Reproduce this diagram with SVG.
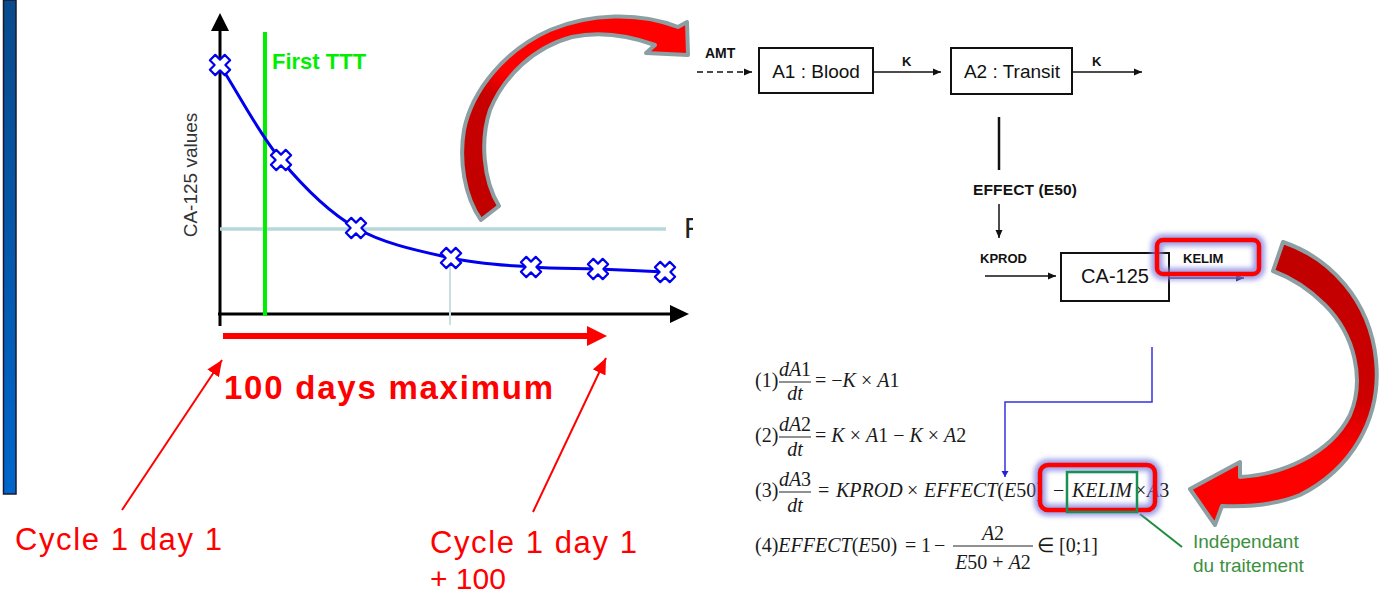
<svg xmlns="http://www.w3.org/2000/svg" width="1379" height="597" viewBox="0 0 1379 597">
<defs>
<style>
.sans{font-family:"Liberation Sans",Arial,sans-serif}
.b{font-weight:bold}
.m{font-family:"Liberation Serif","Times New Roman",serif;font-size:20px;fill:#1a1a1a}
.i{font-style:italic}
.box{fill:#fff;stroke:#111;stroke-width:2}
.flow{stroke:#111;stroke-width:1.5;fill:none}
.xm{fill:#fff;stroke:#0000ee;stroke-width:2.2;stroke-linejoin:round}
.big{stroke:#8c9fa2;stroke-width:4;stroke-linejoin:round}
.glow{fill:none;stroke:#7f7fe0;stroke-width:12;opacity:0.75}
.hl{fill:none;stroke:#ff0000;stroke-width:4.5}
.frac{stroke:#222;stroke-width:1}
.redtxt{fill:#ff0000;font-family:"Liberation Sans",Arial,sans-serif}
</style>
<linearGradient id="barGrad" x1="0" y1="0" x2="0" y2="1"><stop offset="0" stop-color="#0a4a8c"/><stop offset="1" stop-color="#0066cc"/></linearGradient>
<linearGradient id="gTop" x1="0" y1="1" x2="0.6" y2="0"><stop offset="0" stop-color="#c00000"/><stop offset="0.5" stop-color="#c80000"/><stop offset="0.62" stop-color="#ff0000"/><stop offset="1" stop-color="#ff0000"/></linearGradient>
<linearGradient id="gRight" x1="0" y1="0" x2="0" y2="1"><stop offset="0" stop-color="#c00000"/><stop offset="0.55" stop-color="#cc0000"/><stop offset="0.75" stop-color="#ff0000"/><stop offset="1" stop-color="#ff0000"/></linearGradient>
<filter id="blur" x="-20%" y="-50%" width="140%" height="200%"><feGaussianBlur stdDeviation="2.5"/></filter>
<clipPath id="clipF"><rect x="670" y="200" width="23" height="50"/></clipPath>
<path id="xmark" class="xm" d="M3.8,-10.5 L3.8,-3.8 L10.5,-3.8 L10.5,3.8 L3.8,3.8 L3.8,10.5 L-3.8,10.5 L-3.8,3.8 L-10.5,3.8 L-10.5,-3.8 L-3.8,-3.8 L-3.8,-10.5 Z" transform="rotate(45)"/>
<marker id="ahBlack" markerWidth="9" markerHeight="8" refX="8" refY="4" orient="auto" markerUnits="userSpaceOnUse"><path d="M0,0.5 L8,4 L0,7.5 Z" fill="#111"/></marker>
<marker id="ahNavy" markerWidth="9" markerHeight="8" refX="8" refY="4" orient="auto" markerUnits="userSpaceOnUse"><path d="M0,0.5 L8,4 L0,7.5 Z" fill="#1a1a5a"/></marker>
<marker id="ahRed" markerWidth="18" markerHeight="14" refX="16" refY="7" orient="auto" markerUnits="userSpaceOnUse"><path d="M0,0 L16,7 L0,14 Z" fill="#ff0000"/></marker>
<marker id="ahBlue" markerWidth="8" markerHeight="8" refX="6" refY="3.5" orient="auto" markerUnits="userSpaceOnUse"><path d="M0,0 L6,3.5 L0,7 Z" fill="#2222dd"/></marker>
</defs>

<rect width="1379" height="597" fill="#fff"/>

<g id="sidebar">
<rect x="3.5" y="0" width="12.5" height="494" fill="url(#barGrad)" stroke="#1a1a2e" stroke-width="1.5"/>
</g>

<g id="chart">
<line x1="220" y1="28" x2="220" y2="326" stroke="#000" stroke-width="3"/>
<polygon points="211,31 229,31 220,13" fill="#000"/>
<line x1="218" y1="314" x2="672" y2="314" stroke="#000" stroke-width="3"/>
<polygon points="670,305 689,314 670,323" fill="#000"/>
<line x1="220" y1="229" x2="666" y2="229" stroke="#b6d8db" stroke-width="3.5"/>
<line x1="450" y1="262" x2="450" y2="325" stroke="#c8e0e2" stroke-width="2"/>
<line x1="265" y1="32" x2="265" y2="316" stroke="#00ee00" stroke-width="4"/>
<text x="272" y="69" class="sans b" font-size="22" fill="#00ee00">First TTT</text>
<text transform="translate(197,175) rotate(-90)" text-anchor="middle" class="sans" font-size="19" fill="#333">CA-125 values</text>
<path d="M220,65 C240.3,96.7 258.3,132.8 281,160 C303.7,187.2 327.7,211.7 356,228 C384.3,244.3 421.8,251.5 451,258 C480.2,264.5 506.5,265.2 531,267 C555.5,268.8 575.7,268.2 598,269 C620.3,269.8 642.7,271 665,272" fill="none" stroke="#0000ee" stroke-width="3"/>
<use href="#xmark" x="220" y="65"/>
<use href="#xmark" x="281" y="160"/>
<use href="#xmark" x="356" y="228"/>
<use href="#xmark" x="451" y="258"/>
<use href="#xmark" x="531" y="267"/>
<use href="#xmark" x="598" y="269"/>
<use href="#xmark" x="665" y="272"/>
<text x="684" y="238" class="sans" font-size="29" fill="#222" clip-path="url(#clipF)">F</text>
</g>

<g id="timeline">
<line x1="223" y1="336" x2="590" y2="336" stroke="#ff0000" stroke-width="6"/>
<polygon points="587,326 607,336 587,346" fill="#ff0000"/>
<text x="224" y="399" class="redtxt b" font-size="33" textLength="329">100 days maximum</text>
</g>

<g id="label-cycle-start">
<text x="15" y="550" class="redtxt" font-size="31" textLength="207">Cycle 1 day 1</text>
</g>
<g id="label-cycle-end">
<text x="430" y="553" class="redtxt" font-size="31" textLength="207">Cycle 1 day 1</text>
<text x="430" y="589" class="redtxt" font-size="30">+ 100</text>
</g>

<g id="node-a1">
<rect x="759" y="48" width="114" height="45" class="box"/>
<text x="816" y="78" text-anchor="middle" class="sans" font-size="19" fill="#111">A1 : Blood</text>
</g>
<g id="node-a2">
<rect x="951" y="48" width="121" height="46" class="box"/>
<text x="1012" y="78" text-anchor="middle" class="sans" font-size="19" fill="#111">A2 : Transit</text>
</g>
<g id="node-ca125">
<rect x="1061" y="253" width="108" height="48" class="box"/>
<text x="1115" y="283" text-anchor="middle" class="sans" font-size="20" fill="#111">CA-125</text>
</g>
<g id="node-effect">
<text x="973" y="195" class="sans b" font-size="15.5" fill="#111" textLength="104">EFFECT (E50)</text>
</g>

<g id="connectors">
<line x1="697" y1="72" x2="752" y2="72" stroke="#111" stroke-width="1.5" stroke-dasharray="6,4" marker-end="url(#ahBlack)"/>
<line x1="873" y1="72" x2="941" y2="72" class="flow" marker-end="url(#ahBlack)"/>
<line x1="1072" y1="72" x2="1142" y2="72" class="flow" marker-end="url(#ahBlack)"/>
<line x1="999" y1="117" x2="999" y2="170" stroke="#111" stroke-width="2.5"/>
<line x1="999" y1="204" x2="999" y2="238" class="flow" marker-end="url(#ahBlack)"/>
<line x1="985" y1="276" x2="1056" y2="276" class="flow" marker-end="url(#ahBlack)"/>
<line x1="1169" y1="278" x2="1244" y2="278" stroke="#1a1a5a" stroke-width="1.5" marker-end="url(#ahNavy)"/>
<polyline points="1152,347 1152,402 1005,402 1005,477" fill="none" stroke="#3333dd" stroke-width="1.5" marker-end="url(#ahBlue)"/>
<line x1="1140" y1="514" x2="1182" y2="547" stroke="#1e8c3a" stroke-width="2"/>
<line x1="122" y1="510" x2="222" y2="360" stroke="#ff0000" stroke-width="2" marker-end="url(#ahRed)"/>
<line x1="533" y1="512" x2="606" y2="358" stroke="#ff0000" stroke-width="2" marker-end="url(#ahRed)"/>
<text x="705" y="58" class="sans b" font-size="14" fill="#111">AMT</text>
<text x="902" y="66" class="sans b" font-size="13" fill="#111">K</text>
<text x="1092" y="66" class="sans b" font-size="13" fill="#111">K</text>
<text x="980" y="263" class="sans b" font-size="13" fill="#111">KPROD</text>
</g>

<g id="equations" class="m">
<text x="755" y="387">(1)</text>
<text x="795" y="376" text-anchor="middle"><tspan class="i">dA</tspan>1</text>
<line x1="779" y1="382" x2="811" y2="382" class="frac"/>
<text x="795" y="400" text-anchor="middle" class="i">dt</text>
<text x="815" y="387">= −<tspan class="i">K</tspan> × <tspan class="i">A</tspan>1</text>

<text x="755" y="442">(2)</text>
<text x="795" y="431" text-anchor="middle"><tspan class="i">dA</tspan>2</text>
<line x1="779" y1="437" x2="811" y2="437" class="frac"/>
<text x="795" y="456" text-anchor="middle" class="i">dt</text>
<text x="815" y="442">= <tspan class="i">K</tspan> × <tspan class="i">A</tspan>1 − <tspan class="i">K</tspan> × <tspan class="i">A</tspan>2</text>

<text x="755" y="497">(3)</text>
<text x="795" y="486" text-anchor="middle"><tspan class="i">dA</tspan>3</text>
<line x1="779" y1="492" x2="811" y2="492" class="frac"/>
<text x="795" y="512" text-anchor="middle" class="i">dt</text>
<text y="497"><tspan x="818">=</tspan><tspan x="836" class="i">KPROD</tspan><tspan x="907">×</tspan><tspan x="924" class="i">EFFECT</tspan>(<tspan class="i">E</tspan>50)<tspan x="1053">−</tspan><tspan x="1072" class="i">KELIM</tspan><tspan x="1135">×</tspan><tspan x="1147" class="i">A</tspan>3</text>

<text y="552"><tspan x="755">(4)</tspan><tspan class="i">EFFECT</tspan>(<tspan class="i">E</tspan>50)<tspan x="905">=</tspan><tspan x="921">1</tspan><tspan x="934">−</tspan></text>
<text x="993" y="540" text-anchor="middle"><tspan class="i">A</tspan>2</text>
<line x1="953" y1="546" x2="1033" y2="546" class="frac"/>
<text x="993" y="569" text-anchor="middle"><tspan class="i">E</tspan>50 + <tspan class="i">A</tspan>2</text>
<text x="1037" y="552">∈ [0;1]</text>
</g>

<g id="highlight-kelim">
<rect x="1157" y="240" width="102" height="34" rx="6" class="glow" filter="url(#blur)"/>
<rect x="1157" y="240" width="102" height="34" rx="6" class="hl"/>
<text x="1183" y="263" class="sans b" font-size="13" fill="#111">KELIM</text>
</g>

<g id="highlight-eq">
<rect x="1040" y="465" width="115" height="45" rx="8" class="glow" filter="url(#blur)"/>
<rect x="1040" y="465" width="115" height="45" rx="8" class="hl"/>
<rect x="1067" y="472" width="70" height="40" fill="none" stroke="#1a9050" stroke-width="2.5"/>
</g>

<g id="note-independant">
<text x="1193" y="548" class="sans" font-size="19" fill="#3c9040">Indépendant</text>
<text x="1193" y="572" class="sans" font-size="19" fill="#3c9040">du traitement</text>
</g>

<g id="callout-arrows">
<path class="big" fill="url(#gTop)" d="M481,220 C464,196 459,160 464,130 C472,90 505,50 550,30 C590,13 640,12 678,27 L687,22 L688,55 L646,53 L655,45 C630,36 600,31 572,37 C534,47 504,76 490,110 C480,140 483,180 499,206 Z"/>
<path class="big" fill="url(#gRight)" d="M1283,242 C1330,258 1370,300 1376,360 C1382,420 1350,470 1300,495 C1275,505 1245,507 1222,506 L1215,525 L1190,489 L1240,462 L1240,477 C1280,475 1330,455 1350,415 C1365,380 1355,335 1325,305 C1310,290 1292,278 1273,271 Z"/>
</g>
</svg>
